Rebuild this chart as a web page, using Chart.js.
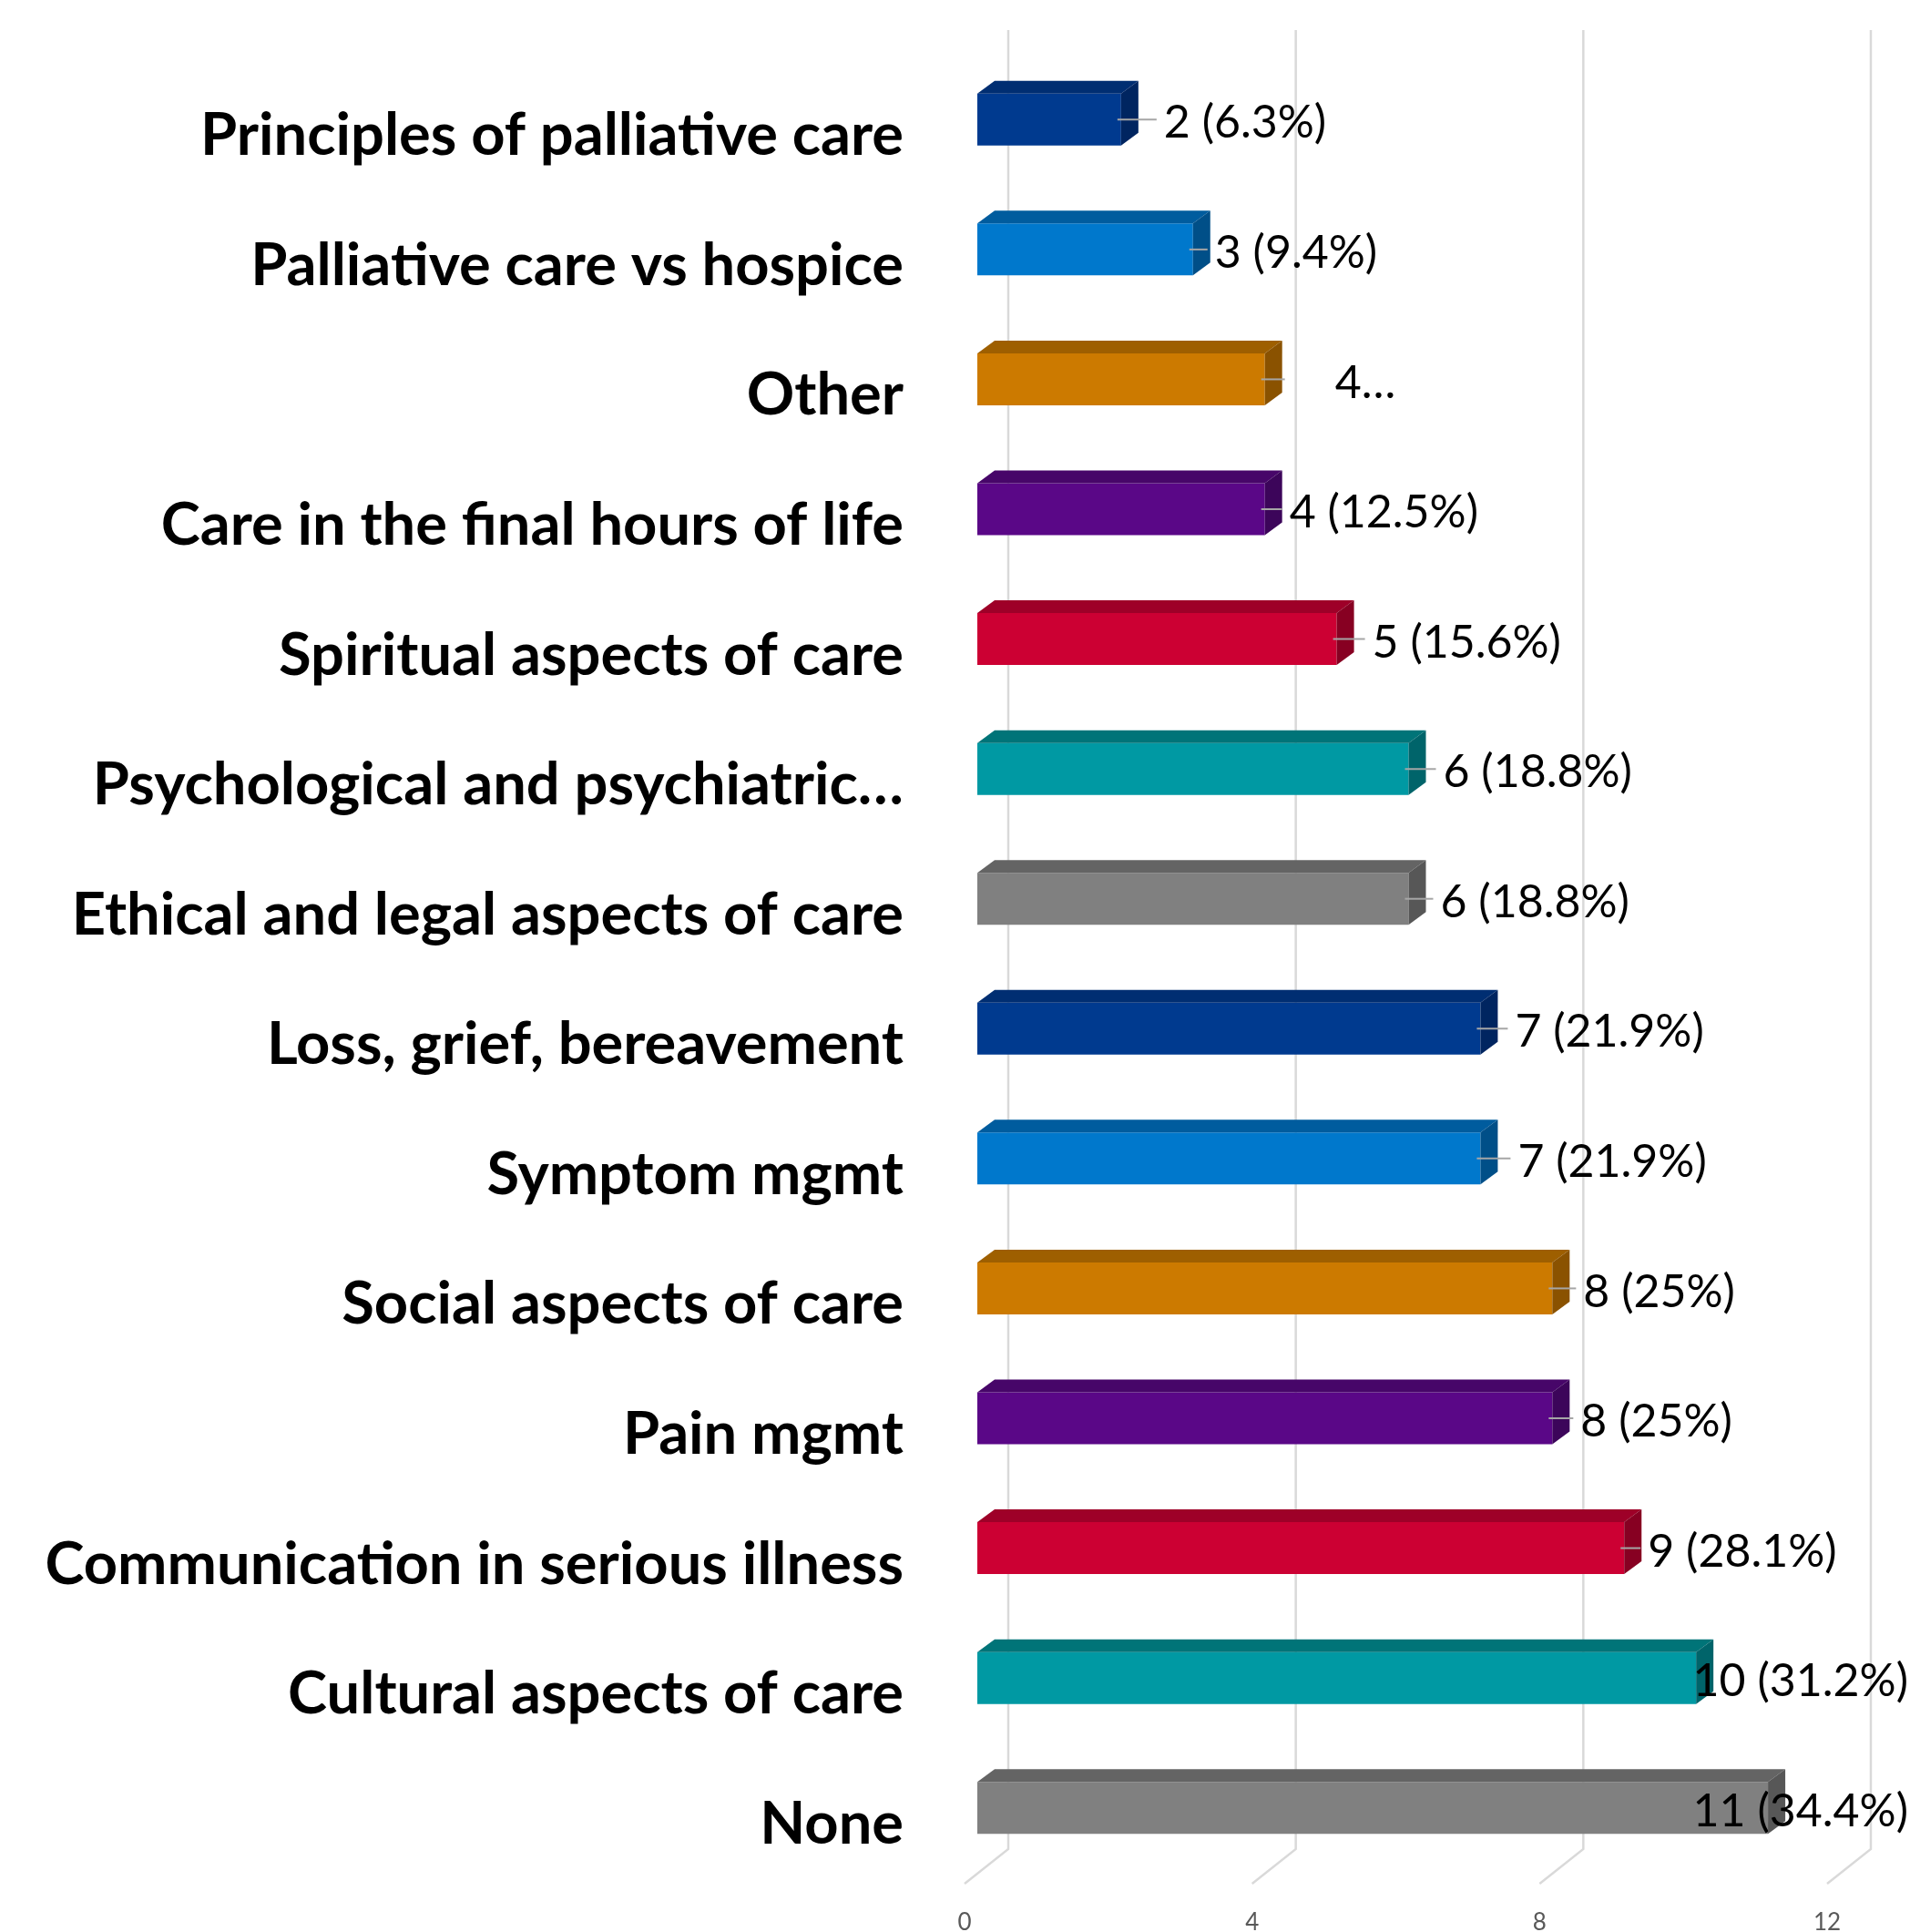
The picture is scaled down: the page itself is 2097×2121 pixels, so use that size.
<!DOCTYPE html>
<html lang="en">
<head>
  <meta charset="UTF-8" />
  <title>Palliative care topics</title>
  <script src="https://cdn.jsdelivr.net/npm/chart.js"></script>
  <style>
    body { margin: 0; background: #fff; }
  </style>
</head>
<body>
  <canvas id="topicChart" width="2097" height="2121"></canvas>
  <script>
    const categories = [
      'Principles of palliative care',
      'Palliative care vs hospice',
      'Other',
      'Care in the final hours of life',
      'Spiritual aspects of care',
      'Psychological and psychiatric…',
      'Ethical and legal aspects of care',
      'Loss, grief, bereavement',
      'Symptom mgmt',
      'Social aspects of care',
      'Pain mgmt',
      'Communication in serious illness',
      'Cultural aspects of care',
      'None'
    ];
    const counts = [2, 3, 4, 4, 5, 6, 6, 7, 7, 8, 8, 9, 10, 11];
    const valueLabels = [
      '2 (6.3%)', '3 (9.4%)', '4…', '4 (12.5%)', '5 (15.6%)', '6 (18.8%)', '6 (18.8%)',
      '7 (21.9%)', '7 (21.9%)', '8 (25%)', '8 (25%)', '9 (28.1%)', '10 (31.2%)', '11 (34.4%)'
    ];
    const xTicks = [0, 4, 8, 12];

    // where each value label sits, measured from the bar end (px)
    const labelShift = [47, 24, 77, 27, 39, 38, 35, 38, 41, 34, 31, 26, 8, -70];

    const frontColors = ['#003A8F', '#0078CC', '#CC7A00', '#5A0787', '#CC0033', '#0099A3', '#808080'];
    const topColors   = ['#002E72', '#005C9E', '#9E5F00', '#470669', '#9E0028', '#007478', '#646464'];
    const sideColors  = ['#002560', '#004F88', '#8A5200', '#3C055A', '#870022', '#00646A', '#575757'];

    const depthX = 19, depthY = 14, wallX = 34;

    const fake3d = {
      id: 'fake3d',
      beforeDatasetsDraw(chart) {
        const ctx = chart.ctx, xs = chart.scales.x, area = chart.chartArea;
        ctx.save();
        ctx.strokeStyle = '#D9D9D9';
        ctx.lineWidth = 2.5;
        xTicks.forEach(v => {
          const px = xs.getPixelForValue(v);
          ctx.beginPath();
          ctx.moveTo(px + wallX, area.top - 27);
          ctx.lineTo(px + wallX, area.bottom - 26);
          ctx.lineTo(px - 14, area.bottom + 12);
          ctx.stroke();
        });
        ctx.restore();
      },
      afterDatasetsDraw(chart) {
        const ctx = chart.ctx;
        const bars = chart.getDatasetMeta(0).data;
        ctx.save();
        bars.forEach((bar, i) => {
          const top = bar.y - bar.height / 2, bottom = bar.y + bar.height / 2;
          const c = i % frontColors.length;
          ctx.fillStyle = topColors[c];
          ctx.beginPath();
          ctx.moveTo(bar.base, top);
          ctx.lineTo(bar.x, top);
          ctx.lineTo(bar.x + depthX, top - depthY);
          ctx.lineTo(bar.base + depthX, top - depthY);
          ctx.closePath();
          ctx.fill();
          ctx.fillStyle = sideColors[c];
          ctx.beginPath();
          ctx.moveTo(bar.x, top);
          ctx.lineTo(bar.x + depthX, top - depthY);
          ctx.lineTo(bar.x + depthX, bottom - depthY);
          ctx.lineTo(bar.x, bottom);
          ctx.closePath();
          ctx.fill();
        });

        ctx.font = '50px Lato';
        ctx.textAlign = 'left';
        ctx.textBaseline = 'middle';
        bars.forEach((bar, i) => {
          const w = ctx.measureText(valueLabels[i]).width;
          const lx = Math.min(bar.x + labelShift[i], chart.width - w - 2);
          const ly = bar.y + 4;
          let lineEnd = lx - 8;
          if (labelShift[i] > 60) lineEnd = bar.x + 22;
          if (lineEnd > bar.x + 4) {
            ctx.strokeStyle = '#A6A6A6';
            ctx.lineWidth = 2;
            ctx.beginPath();
            ctx.moveTo(bar.x - 4, bar.y);
            ctx.lineTo(lineEnd, bar.y);
            ctx.stroke();
          }
          ctx.fillStyle = '#000';
          ctx.fillText(valueLabels[i], lx, ly);
        });
        ctx.restore();
      }
    };

    function drawChart() {
      new Chart(document.getElementById('topicChart'), {
        type: 'bar',
        data: {
          labels: categories,
          datasets: [{
            data: counts,
            backgroundColor: counts.map((_, i) => frontColors[i % frontColors.length]),
            borderWidth: 0,
            barPercentage: 0.4,
            categoryPercentage: 1.0
          }]
        },
        options: {
          indexAxis: 'y',
          responsive: false,
          devicePixelRatio: 1,
          animation: false,
          layout: { padding: { top: 60, right: 77, bottom: 0, left: 0 } },
          plugins: { legend: { display: false }, tooltip: { enabled: false } },
          scales: {
            x: {
              min: 0,
              max: 12,
              afterFit(scale) {
                scale.height = 65;
                scale.paddingLeft = 0;
                scale.paddingRight = 0;
              },
              grid: { display: false, drawTicks: false },
              border: { display: false },
              ticks: {
                stepSize: 4,
                padding: 39,
                labelOffset: -14,
                color: '#595959',
                font: { family: 'Lato', size: 26 }
              }
            },
            y: {
              afterFit(scale) {
                scale.width = 1073;
                scale.paddingTop = 0;
                scale.paddingBottom = 0;
              },
              grid: { display: false, drawTicks: false },
              border: { display: false },
              ticks: {
                autoSkip: false,
                padding: 81,
                labelOffset: 18,
                color: '#000',
                font: { family: 'Lato', size: 65, weight: 'bold' }
              }
            }
          }
        },
        plugins: [fake3d]
      });
    }

    Promise.all([
      document.fonts.load('bold 65px Lato'),
      document.fonts.load('50px Lato')
    ]).then(drawChart, drawChart);
  </script>
</body>
</html>
